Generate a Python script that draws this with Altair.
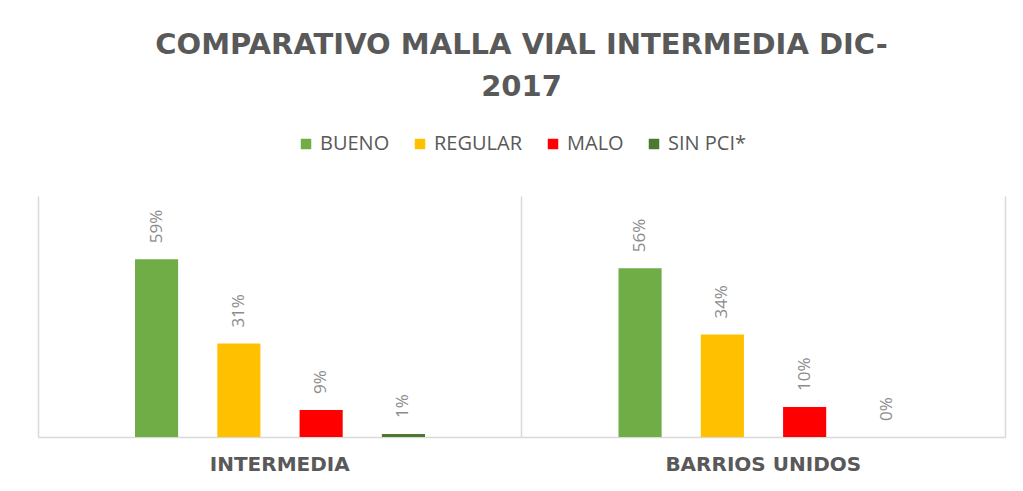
import altair as alt
import pandas as pd

groups = ["INTERMEDIA", "BARRIOS UNIDOS"]
categories = ["BUENO", "REGULAR", "MALO", "SIN PCI*"]
colors = ["#70AD47", "#FFC000", "#FF0000", "#4B7A2F"]
intermedia = [0.59, 0.31, 0.09, 0.01]
barrios = [0.56, 0.34, 0.10, 0.0]

rows = []
for g, vals in zip(groups, [intermedia, barrios]):
    for c, v in zip(categories, vals):
        rows.append({"grupo": g, "categoria": c, "valor": v})
df = pd.DataFrame(rows)

FONT = "Open Sans"
TFONT = "DejaVu Sans"
GRAY = "#595959"
LINE = "#D9D9D9"

base = alt.Chart(df).encode(
    x=alt.X(
        "grupo:N",
        sort=groups,
        scale=alt.Scale(paddingInner=0, paddingOuter=0),
        axis=alt.Axis(
            title=None,
            labelAngle=0,
            ticks=False,
            domainColor=LINE,
            domainWidth=1.5,
            grid=True,
            gridColor=LINE,
            gridWidth=1.5,
            bandPosition=0,
            labelFont=TFONT,
            labelFontSize=20,
            labelFontWeight="bold",
            labelColor=GRAY,
            labelPadding=17,
            labelLimit=480,
        ),
    ),
    xOffset=alt.XOffset(
        "categoria:N",
        sort=categories,
        scale=alt.Scale(paddingInner=0.476, paddingOuter=0, range=[97, 387]),
    ),
    y=alt.Y(
        "valor:Q",
        scale=alt.Scale(domain=[0, 0.8]),
        axis=alt.Axis(
            orient="right",
            title=None,
            labels=False,
            ticks=False,
            grid=False,
            domainColor=LINE,
            domainWidth=1.5,
        ),
    ),
)

bars = base.mark_bar().encode(
    color=alt.Color(
        "categoria:N",
        sort=categories,
        scale=alt.Scale(domain=categories, range=colors),
        legend=alt.Legend(
            title=None,
            orient="none",
            direction="horizontal",
            legendX=258,
            legendY=-62,
            symbolType="square",
            symbolSize=110,
            symbolStrokeWidth=0,
            labelFont=FONT,
            labelFontSize=20,
            labelColor=GRAY,
            columnPadding=20,
            labelOffset=4,
        ),
    )
)

labels = base.mark_text(
    angle=270,
    align="left",
    baseline="middle",
    dx=16,
    font=FONT,
    fontSize=17,
    color="#8C8C8C",
).encode(text=alt.Text("valor:Q", format=".0%"))

chart = (
    alt.layer(bars, labels)
    .properties(
        width=967,
        height=241,
        autosize=alt.AutoSizeParams(type="none"),
        padding={"left": 30, "top": 188, "right": 10, "bottom": 46},
        view=alt.ViewBackground(strokeOpacity=0, strokeWidth=0),
        title=alt.TitleParams(
            text=["COMPARATIVO MALLA VIAL INTERMEDIA DIC-", "2017"],
            font=TFONT,
            fontSize=29,
            fontWeight="bold",
            color=GRAY,
            anchor="middle",
            lineHeight=42,
            offset=32,
        ),
    )
    .configure_view(strokeOpacity=0, strokeWidth=0)
    .configure(background="white")
)

chart.save("out.html", embed_options={"renderer": "svg", "actions": False})
